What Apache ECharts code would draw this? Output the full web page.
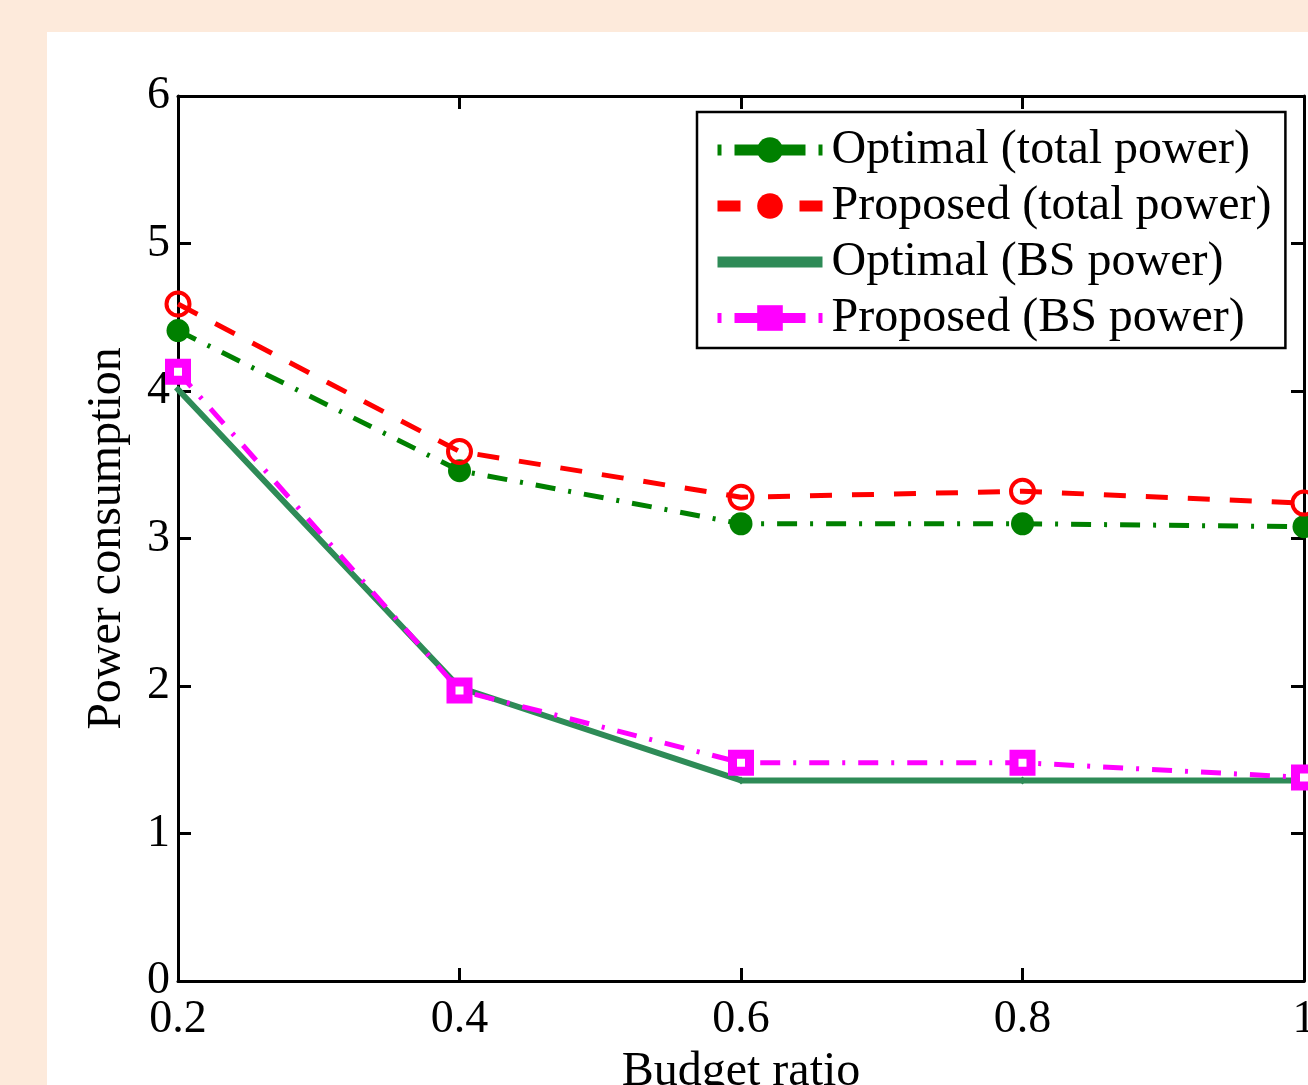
<!DOCTYPE html>
<html>
<head>
<meta charset="utf-8">
<title>Power consumption vs budget ratio</title>
<script src="https://cdn.jsdelivr.net/npm/echarts@6/dist/echarts.min.js"></script>
<style>
  html, body { margin: 0; padding: 0; }
  #main { width: 1308px; height: 1085px; }
</style>
</head>
<body>
<div id="main"></div>
<script>
// values
var budgetRatio = [0.2, 0.4, 0.6, 0.8, 1.0];
var optimalTotal = [4.41, 3.46, 3.10, 3.10, 3.08];
var proposedTotal = [4.59, 3.59, 3.28, 3.32, 3.24];
var optimalBS = [4.01, 1.99, 1.36, 1.36, 1.36];
var proposedBS = [4.13, 1.97, 1.48, 1.48, 1.38];

var seriesNames = [
  'Optimal (total power)',
  'Proposed (total power)',
  'Optimal (BS power)',
  'Proposed (BS power)'
];

function pairs(ys) {
  return budgetRatio.map(function (x, i) { return [x, ys[i]]; });
}

var font = 'Liberation Serif, Times New Roman, serif';

var myChart = echarts.init(document.getElementById('main'));

var boxAxis = {
  axisLine: { show: true, onZero: false, lineStyle: { color: '#000', width: 3 } },
  axisTick: { show: true, inside: true, length: 13, lineStyle: { color: '#000', width: 3 } },
  splitLine: { show: false }
};

// the legend draws its samples thicker than the plot lines
var legendDashDot = [4, 13, 71, 13, 4, 100];

myChart.setOption({
  backgroundColor: '#fdeadb',
  animation: false,
  graphic: [{
    type: 'rect',
    z: -100,
    shape: { x: 47, y: 32, width: 1261, height: 1053 },
    style: { fill: '#fff' }
  }],
  grid: {
    left: 178,
    top: 96,
    right: 4,
    bottom: 104,
    outerBoundsMode: 'none'
  },
  legend: {
    orient: 'vertical',
    left: 697,
    top: 112,
    backgroundColor: '#fff',
    borderColor: '#000',
    borderWidth: 2.5,
    borderRadius: 0,
    padding: [14, 14, 6, 15],
    itemWidth: 105,
    itemHeight: 32,
    itemGap: 8,
    textStyle: {
      fontFamily: font,
      fontSize: 48,
      color: '#000',
      padding: [0, 0, 0, 4]
    },
    data: [
      {
        name: seriesNames[0],
        lineStyle: { width: 11, type: legendDashDot }
      },
      {
        name: seriesNames[1],
        lineStyle: { width: 11, type: [23, 59, 23, 100] },
        itemStyle: { color: '#ff0000', borderWidth: 0 }
      },
      {
        name: seriesNames[2],
        lineStyle: { width: 11 },
        itemStyle: { opacity: 0 }
      },
      {
        name: seriesNames[3],
        lineStyle: { width: 10, type: legendDashDot },
        itemStyle: { color: '#ff00ff', borderWidth: 0 }
      }
    ]
  },
  xAxis: [
    Object.assign({
      type: 'value',
      min: 0.2,
      max: 1.0,
      interval: 0.2,
      name: 'Budget ratio',
      nameLocation: 'middle',
      nameGap: 60,
      nameTextStyle: { fontFamily: font, fontSize: 48, color: '#000' },
      axisLabel: {
        fontFamily: font,
        fontSize: 46,
        color: '#000',
        margin: 16,
        formatter: function (v) { return String(+v.toFixed(1)); }
      }
    }, boxAxis),
    Object.assign({
      type: 'value',
      position: 'top',
      min: 0.2,
      max: 1.0,
      interval: 0.2,
      axisLabel: { show: false }
    }, boxAxis)
  ],
  yAxis: [
    Object.assign({
      type: 'value',
      min: 0,
      max: 6,
      interval: 1,
      name: 'Power consumption',
      nameLocation: 'middle',
      nameGap: 47,
      nameTextStyle: { fontFamily: font, fontSize: 48, color: '#000' },
      axisLabel: {
        fontFamily: font,
        fontSize: 46,
        color: '#000',
        margin: 8
      }
    }, boxAxis),
    Object.assign({
      type: 'value',
      position: 'right',
      min: 0,
      max: 6,
      interval: 1,
      axisLabel: { show: false }
    }, boxAxis)
  ],
  series: [
    {
      name: seriesNames[0],
      type: 'line',
      data: pairs(optimalTotal),
      color: '#008000',
      lineStyle: { color: '#008000', width: 5, type: [20, 13, 3, 13] },
      symbol: 'circle',
      symbolSize: 23,
      itemStyle: { color: '#008000' }
    },
    {
      name: seriesNames[1],
      type: 'line',
      data: pairs(proposedTotal),
      color: '#ff0000',
      lineStyle: { color: '#ff0000', width: 5, type: [22, 20] },
      symbol: 'circle',
      symbolSize: 23,
      itemStyle: { color: 'rgba(255,255,255,0)', borderColor: '#ff0000', borderWidth: 4 }
    },
    {
      name: seriesNames[2],
      type: 'line',
      data: pairs(optimalBS),
      color: '#2e8b57',
      lineStyle: { color: '#2e8b57', width: 6, type: 'solid' },
      symbol: 'diamond',
      symbolSize: 8,
      itemStyle: { color: '#2e8b57' }
    },
    {
      name: seriesNames[3],
      type: 'line',
      data: pairs(proposedBS),
      color: '#ff00ff',
      lineStyle: { color: '#ff00ff', width: 5, type: [20, 13, 3, 13] },
      symbol: 'rect',
      symbolSize: 17,
      itemStyle: { color: '#fff', borderColor: '#ff00ff', borderWidth: 9 }
    }
  ]
});
</script>
</body>
</html>
